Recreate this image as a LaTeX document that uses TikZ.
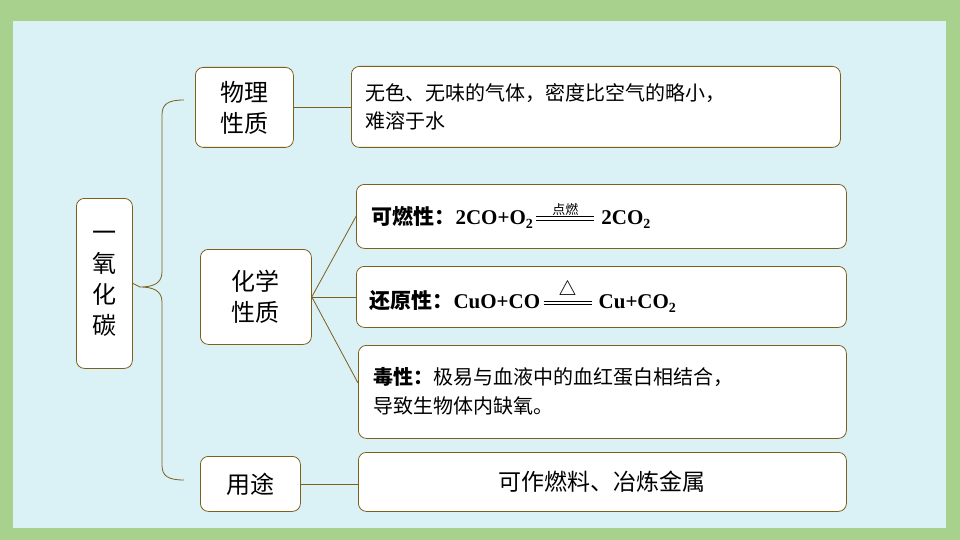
\documentclass[tikz,border=0pt]{standalone}
\usepackage{fontspec}
\setmainfont{Liberation Serif}
\newfontfamily\cjk{Noto Sans CJK SC}
\definecolor{bgg}{RGB}{169,209,142}
\definecolor{bgb}{RGB}{218,241,245}
\definecolor{lnc}{RGB}{125,95,30}
\newcommand\eqsign[2]{\raisebox{4pt}{\vbox{\hbox to #1{\hss#2\hss}\kern1pt\hrule height .8pt\kern2.5pt\hrule height .8pt}}}
\newcommand\sbt[1]{\raisebox{-4pt}{\fontsize{14}{14}\selectfont #1}}
\begin{document}
\begin{tikzpicture}[x=1pt,y=-1pt,
  box/.style={draw=lnc,line width=0.8pt,fill=white,rounded corners=8pt,anchor=north west,inner sep=0pt},
  lbl/.style={box,font=\cjk\fontsize{24}{31}\selectfont,align=center},
  ln/.style={draw=lnc,line width=0.8pt}]
\fill[bgg] (0,0) rectangle (960,540);
\fill[bgb] (13,21) rectangle (946,528);
\node[lbl,minimum width=56pt,minimum height=170pt] (root) at (76,198) {一\\氧\\化\\碳};
\node[lbl,minimum width=98pt,minimum height=80pt] (p) at (195,67) {物理\\性质};
\node[lbl,minimum width=111pt,minimum height=95pt] (c) at (200,249) {化学\\性质};
\node[lbl,minimum width=100pt,minimum height=55pt] (u) at (200,456) {用途};
\node[box,minimum width=489pt,minimum height=81pt,font=\cjk\fontsize{20}{28}\selectfont,align=left] (t1) at (351,66) {\hspace*{10pt}\parbox{470pt}{无色、无味的气体，密度比空气的略小，\\难溶于水}};
\node[box,minimum width=490pt,minimum height=64pt] (t2) at (356,184) {};
\node[anchor=west,font=\fontsize{21}{24}\selectfont\bfseries] (f2) at (368,216) {{\cjk 可燃性：}2CO+O\sbt{2}\,\eqsign{58pt}{\cjk\mdseries\fontsize{13}{13}\selectfont 点燃}\,\,2CO\sbt{2}};
\node[box,minimum width=490pt,minimum height=61pt] (t3) at (356,266) {};
\node[anchor=west,font=\fontsize{21}{24}\selectfont\bfseries] (f3) at (366,297) {{\cjk 还原性：}CuO+CO\,\eqsign{48pt}{\mdseries\fontsize{22}{22}\selectfont$\triangle$}\,\,Cu+CO\sbt{2}};
\node[box,minimum width=488pt,minimum height=93pt] (t4) at (358,345) {};
\node[anchor=west,font=\cjk\fontsize{20}{29}\selectfont,align=left] (f4) at (370,391) {\textbf{毒性：}极易与血液中的血红蛋白相结合，\\导致生物体内缺氧。};
\node[box,minimum width=488pt,minimum height=59pt,font=\cjk\fontsize{23}{26}\selectfont] (t5) at (358,452) {可作燃料、冶炼金属};
\coordinate (t4a) at (358,383);
\coordinate (tip) at (140,287);
\draw[ln] (p.east) -- (t1.west |- p.east);
\draw[ln] (c.east) -- (t2.west);
\draw[ln] (c.east) -- (t3.west);
\draw[ln] (c.east) -- (t4a);
\draw[ln] (u.east) -- (t5.west |- u.east);
\draw[ln] (root.east) -- (tip);
\draw[ln] (184,100) .. controls (168,100) and (162,104) .. (162,115) -- (162,272) .. controls (162,284) and (152,287) .. (tip) .. controls (152,287) and (162,290) .. (162,302) -- (162,465) .. controls (162,476) and (168,480) .. (184,480);
\end{tikzpicture}
\end{document}
